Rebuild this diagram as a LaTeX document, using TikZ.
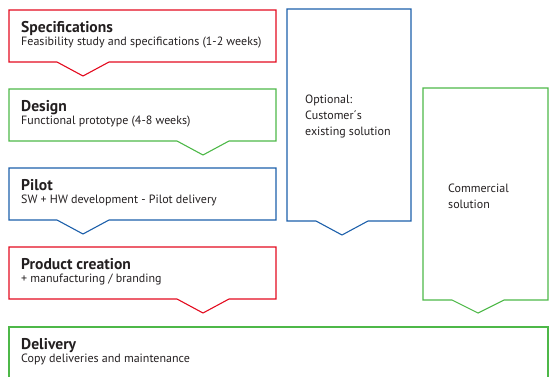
\documentclass[tikz,border=0pt]{standalone}
\usepackage{fontspec}
\setmainfont{PT Sans}
\definecolor{cred}{HTML}{E30A1E}
\definecolor{cgreen}{HTML}{4DB848}
\definecolor{cblue}{HTML}{1C5FAA}
\definecolor{ctext}{HTML}{231F20}
\begin{document}
\begin{tikzpicture}[x=1pt,y=-1pt,
  outline/.style={line width=1.1pt, line join=miter},
  ttl/.style={anchor=base west, inner sep=0pt, font=\bfseries\fontsize{15.6}{17}\selectfont, text=ctext},
  sub/.style={anchor=base west, inner sep=0pt, font=\fontsize{12}{14}\selectfont, text=ctext},
  side/.style={anchor=north west, inner sep=0pt, align=left, font=\fontsize{12}{16}\selectfont, text=ctext}]
\useasboundingbox (0,0) rectangle (549,376);
\clip (0,0) rectangle (549,376);
% Specifications
\draw[outline,cred] (9,10) -- (276,10) -- (276,62) -- (109,62) -- (83,76) -- (57,62) -- (9,62) -- cycle;
\node[ttl] (specT) at (21,32) {Specifications};
\node[sub] (specS) at (21,45) {Feasibility study and specifications (1-2 weeks)};
% Design
\draw[outline,cgreen] (9,89) -- (276,89) -- (276,141) -- (229,141) -- (203,155) -- (177,141) -- (9,141) -- cycle;
\node[ttl] (desT) at (21,111) {Design};
\node[sub] (desS) at (21,124) {Functional prototype (4-8 weeks)};
% Pilot
\draw[outline,cblue] (9,168) -- (276,168) -- (276,220) -- (109,220) -- (83,234) -- (57,220) -- (9,220) -- cycle;
\node[ttl] (pilT) at (21,190) {Pilot};
\node[sub] (pilS) at (21,203) {SW + HW development - Pilot delivery};
% Product creation
\draw[outline,cred] (9,247) -- (276,247) -- (276,299) -- (229,299) -- (203,313) -- (177,299) -- (9,299) -- cycle;
\node[ttl] (proT) at (21,269) {Product creation};
\node[sub] (proS) at (21,282) {+ manufacturing / branding};
% Delivery
\draw[outline,cgreen] (9,327) -- (548,327) -- (548,390) -- (9,390) -- cycle;
\node[ttl] (delT) at (21,349) {Delivery};
\node[sub] (delS) at (21,362) {Copy deliveries and maintenance};
% Optional
\draw[outline,cblue] (287,9) -- (411,9) -- (411,221) -- (368,221) -- (342,235) -- (316,221) -- (287,221) -- cycle;
\node[side] (opt) at (305,95) {Optional:\\Customer´s\\existing solution};
% Commercial
\draw[outline,cgreen] (423,88) -- (548,88) -- (548,300) -- (504,300) -- (478,313) -- (452,300) -- (423,300) -- cycle;
\node[side] (com) at (448,184) {Commercial\\solution};
\end{tikzpicture}
\end{document}
